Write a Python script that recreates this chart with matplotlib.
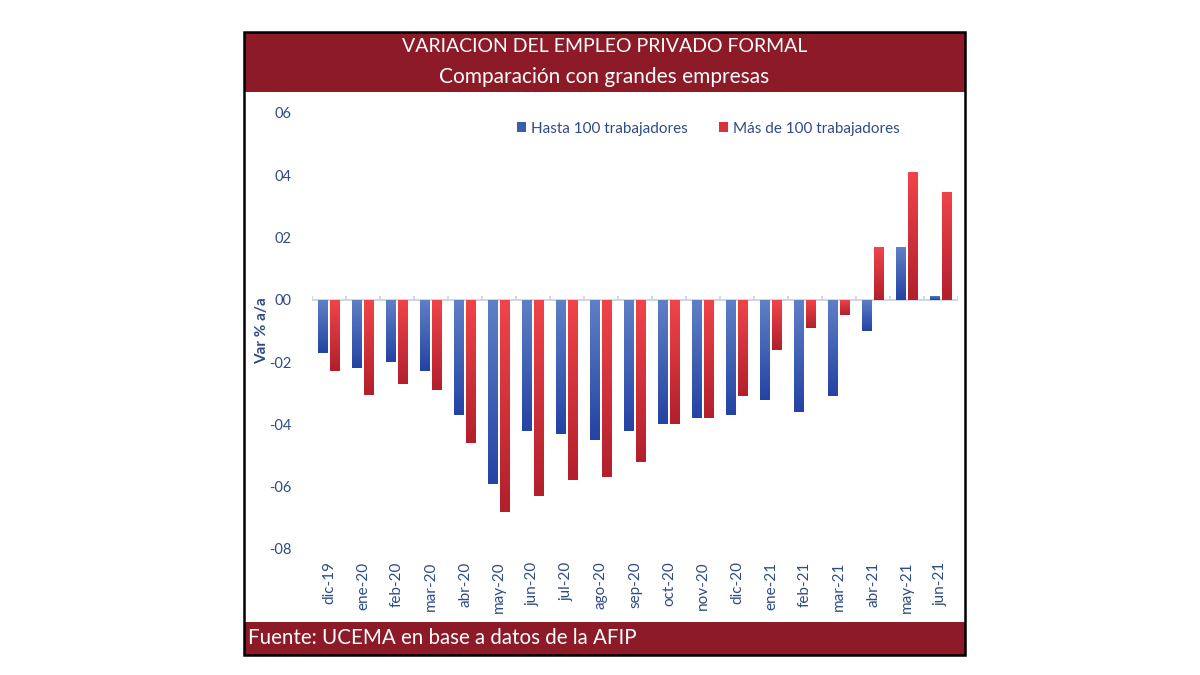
import matplotlib.pyplot as plt
import numpy as np
from matplotlib.colors import LinearSegmentedColormap
from matplotlib.patches import Rectangle, Patch
from matplotlib.ticker import FuncFormatter

meses = ['dic-19', 'ene-20', 'feb-20', 'mar-20', 'abr-20', 'may-20', 'jun-20',
         'jul-20', 'ago-20', 'sep-20', 'oct-20', 'nov-20', 'dic-20', 'ene-21',
         'feb-21', 'mar-21', 'abr-21', 'may-21', 'jun-21']
hasta_100 = [-0.17, -0.22, -0.20, -0.23, -0.37, -0.59, -0.42, -0.43, -0.45, -0.42,
             -0.40, -0.38, -0.37, -0.32, -0.36, -0.31, -0.10, 0.17, 0.013]
mas_100 = [-0.23, -0.305, -0.27, -0.29, -0.46, -0.68, -0.63, -0.58, -0.57, -0.52,
           -0.40, -0.38, -0.31, -0.16, -0.09, -0.05, 0.17, 0.41, 0.345]
y_ticks = [-0.8, -0.6, -0.4, -0.2, 0.0, 0.2, 0.4, 0.6]

plt.rcParams['font.family'] = ['Lato', 'DejaVu Sans']

granate = '#8C1A27'
azul_txt = '#2F4B87'
cmap_azul = LinearSegmentedColormap.from_list('az', ['#5F80C6', '#2443A3'])
cmap_rojo = LinearSegmentedColormap.from_list('ro', ['#F0444A', '#B1202C'])

fig = plt.figure(figsize=(12, 6.75), dpi=100)

# marco y bandas
x0, x1 = 244 / 1200, 965 / 1200
fig.patches.append(Rectangle((x0, 1 - 92 / 675), x1 - x0, 60 / 675, transform=fig.transFigure,
                             facecolor=granate, edgecolor='none', zorder=0))
fig.patches.append(Rectangle((x0, 1 - 655 / 675), x1 - x0, 33 / 675, transform=fig.transFigure,
                             facecolor=granate, edgecolor='none', zorder=0))
fig.patches.append(Rectangle((x0, 1 - 655 / 675), x1 - x0, 623 / 675, transform=fig.transFigure,
                             facecolor='none', edgecolor='black', lw=1.8, zorder=5))

xm = (x0 + x1) / 2
fig.text(xm, 1 - 47 / 675, 'VARIACION DEL EMPLEO PRIVADO FORMAL', color='white',
         fontsize=14, ha='center', va='center')
fig.text(xm, 1 - 77 / 675, 'Comparación con grandes empresas', color='white',
         fontsize=15, ha='center', va='center')
fig.text(248 / 1200, 1 - 638 / 675, 'Fuente: UCEMA en base a datos de la AFIP', color='white',
         fontsize=14.8, ha='left', va='center')

ax = fig.add_axes([312 / 1200, 1 - 549 / 675, 646 / 1200, 436 / 675])
x = np.arange(len(meses))
w = 0.28
off = 0.17


def barras_degradado(xs, vals, cmap):
    bars = ax.bar(xs, vals, w, color='none', edgecolor='none', zorder=2)
    grad = np.linspace(0, 1, 100).reshape(-1, 1)
    for b in bars:
        bx, by = b.get_x(), b.get_y()
        bw, bh = b.get_width(), b.get_height()
        lo, hi = min(by, by + bh), max(by, by + bh)
        im = ax.imshow(grad, extent=[bx, bx + bw, lo, hi], origin='upper',
                       aspect='auto', cmap=cmap, zorder=2)
        im.set_clip_path(b)


barras_degradado(x - off, hasta_100, cmap_azul)
barras_degradado(x + off, mas_100, cmap_rojo)

ax.axhline(0, color='#C9D3E3', lw=1.3, zorder=1)
ax.vlines(np.arange(len(meses) + 1) - 0.5, 0, 0.012, color='#C9D3E3', lw=1.2, zorder=1)

ax.set_xlim(-0.5, len(meses) - 0.5)
ax.set_ylim(-0.8, 0.6)
ax.set_yticks(y_ticks)
ax.yaxis.set_major_formatter(FuncFormatter(
    lambda v, p: ('-' if v < -1e-9 else '') + '0' + str(int(round(abs(v) * 10)))))
ax.set_xticks(x)
ax.set_xticklabels(meses, rotation=90)
ax.tick_params(axis='y', length=0, pad=15, labelsize=10.5, labelcolor=azul_txt)
ax.tick_params(axis='x', length=0, pad=9, labelsize=11, labelcolor=azul_txt)
for s in ax.spines.values():
    s.set_visible(False)
ax.set_ylabel('Var % a/a', fontsize=11, fontweight='bold', color=azul_txt)
ax.yaxis.set_label_coords(-0.066, 0.5)

handles = [Patch(facecolor='#3A5BB2', label='Hasta 100 trabajadores'),
           Patch(facecolor='#D8313A', label='Más de 100 trabajadores')]
ax.legend(handles=handles, loc='center left', bbox_to_anchor=(0.296, 0.964), ncol=2,
          frameon=False, fontsize=11, labelcolor=azul_txt, handlelength=0.6,
          handleheight=0.6, handletextpad=0.35, columnspacing=2.0)

fig.savefig('out.png', dpi=100)
